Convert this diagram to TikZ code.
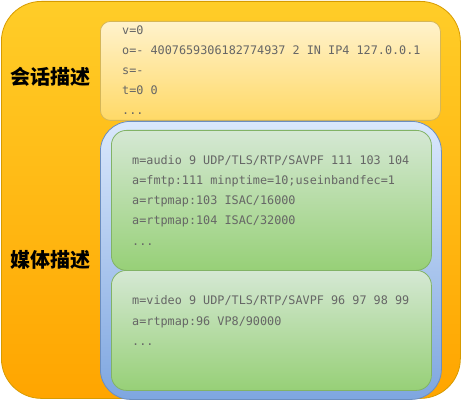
\documentclass[tikz,border=0pt]{standalone}
\usepackage{fontspec}
\setmonofont{DejaVu Sans Mono}
\newfontfamily\cjk{Noto Sans CJK SC}

\definecolor{outertop}{HTML}{FFCD28}
\definecolor{outerbot}{HTML}{FFA500}
\definecolor{outerline}{HTML}{D79B00}
\definecolor{sesstop}{HTML}{FFF2CC}
\definecolor{sessbot}{HTML}{FFD966}
\definecolor{sessline}{HTML}{D6B656}
\definecolor{mediatop}{HTML}{DAE8FC}
\definecolor{mediabot}{HTML}{7EA6E0}
\definecolor{medialine}{HTML}{6C8EBF}
\definecolor{greentop}{HTML}{D5E8D4}
\definecolor{greenbot}{HTML}{97D077}
\definecolor{greenline}{HTML}{82B366}
\definecolor{sdpgray}{HTML}{666666}

\newcommand\sdpdots{...}

\tikzset{
  sdpbox/.style={draw, rounded corners=#1, anchor=north west, inner sep=0pt, line width=0.8pt},
  sdpline/.style={anchor=base west, inner sep=0pt, text=sdpgray, font=\ttfamily\fontsize{11.8}{14}\selectfont},
  sdplabel/.style={inner sep=0pt, font=\cjk\bfseries\fontsize{20}{24}\selectfont}
}

\begin{document}
\begin{tikzpicture}[x=1pt, y=-1pt]
  \useasboundingbox (0,0) rectangle (461,401);

  % boxes
  \node[sdpbox=40pt, draw=outerline, top color=outertop, bottom color=outerbot,
        minimum width=459pt, minimum height=397pt] (outer) at (1,1) {};
  \node[sdpbox=10pt, draw=sessline, top color=sesstop, bottom color=sessbot,
        minimum width=340pt, minimum height=99pt] (session) at (100,21) {};
  \node[sdpbox=30pt, draw=medialine, top color=mediatop, bottom color=mediabot,
        minimum width=341pt, minimum height=278pt] (media) at (100,121) {};
  \node[sdpbox=15pt, draw=greenline, top color=greentop, bottom color=greenbot,
        minimum width=320pt, minimum height=140pt] (audio) at (111,130) {};
  \node[sdpbox=15pt, draw=greenline, top color=greentop, bottom color=greenbot,
        minimum width=320pt, minimum height=120pt] (video) at (111,270) {};

  % labels
  \node[sdplabel] (sesslabel) at (50,77) {会话描述};
  \node[sdplabel] (medialabel) at (50,260) {媒体描述};

  % session lines
  \foreach \txt [count=\i] in {v=0, o=- 4007659306182774937 2 IN IP4 127.0.0.1, s=-, t=0 0, \sdpdots}
    \node[sdpline] (sess\i) at (122,15+20*\i) {\txt};

  % audio lines
  \foreach \txt [count=\i] in {m=audio 9 UDP/TLS/RTP/SAVPF 111 103 104, a=fmtp:111 minptime=10;useinbandfec=1,
      a=rtpmap:103 ISAC/16000, a=rtpmap:104 ISAC/32000, \sdpdots}
    \node[sdpline] (audio\i) at (132,145+20*\i) {\txt};

  % video lines
  \foreach \txt [count=\i] in {m=video 9 UDP/TLS/RTP/SAVPF 96 97 98 99, a=rtpmap:96 VP8/90000, \sdpdots}
    \node[sdpline] (video\i) at (132,285+20*\i) {\txt};
\end{tikzpicture}
\end{document}
